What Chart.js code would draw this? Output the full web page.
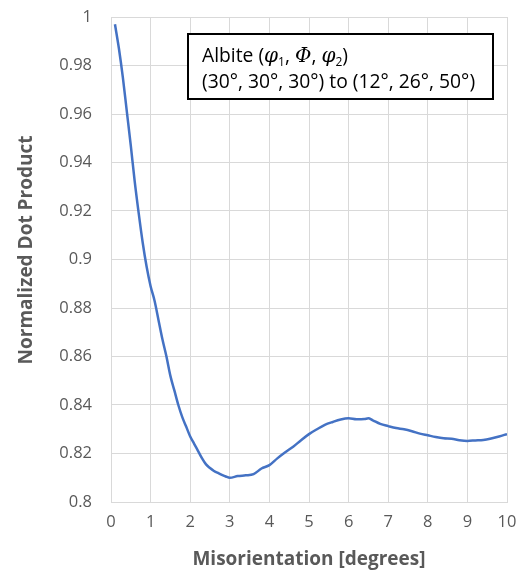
<!DOCTYPE html>
<html>
<head>
<meta charset="utf-8">
<script src="https://cdn.jsdelivr.net/npm/chart.js@4.4.0/dist/chart.umd.min.js"></script>
<style>
    html, body { margin: 0; padding: 0; background: #fff; }
    #wrap { width: 530px; height: 573px; }
</style>
</head>
<body>
<div id="wrap"><canvas id="lineChart" width="530" height="573"></canvas></div>
<script>
// misorientation in degrees and the normalized dot product
var misorientation = [0.1, 0.2, 0.3, 0.4, 0.5, 0.6, 0.7, 0.8, 0.9, 1.0,
    1.1, 1.2, 1.3, 1.4, 1.5, 1.6, 1.7, 1.8, 1.9, 2.0,
    2.1, 2.2, 2.3, 2.4, 2.5, 2.6, 2.7, 2.8, 2.9, 3.0,
    3.2, 3.4, 3.6, 3.8, 4.0, 4.2, 4.4, 4.6, 4.8, 5.0,
    5.2, 5.4, 5.6, 5.8, 6.0, 6.2, 6.4, 6.5, 6.6, 6.8,
    7.0, 7.2, 7.4, 7.6, 7.8, 8.0, 8.2, 8.4, 8.6, 8.8,
    9.0, 9.2, 9.4, 9.6, 9.8, 10.0];
var dotProduct = [0.997, 0.987, 0.975, 0.961, 0.947, 0.932, 0.919, 0.907, 0.897, 0.889,
    0.883, 0.875, 0.867, 0.860, 0.852, 0.846, 0.840, 0.835, 0.831, 0.827,
    0.824, 0.821, 0.818, 0.8155, 0.814, 0.8128, 0.812, 0.8112, 0.8105, 0.810,
    0.8107, 0.8110, 0.8115, 0.8138, 0.8152, 0.818, 0.8205, 0.8228, 0.8255, 0.828,
    0.830, 0.8318, 0.833, 0.834, 0.8345, 0.8341, 0.8342, 0.8345, 0.8338, 0.8322,
    0.8313, 0.8305, 0.8300, 0.8292, 0.8282, 0.8275, 0.8268, 0.8263, 0.8261, 0.8255,
    0.8252, 0.8254, 0.8256, 0.8262, 0.8270, 0.828];

var xTitle = 'Misorientation [degrees]';
var yTitle = 'Normalized Dot Product';
var boxLine2 = '(30°, 30°, 30°) to (12°, 26°, 50°)';

var points = [];
for (var i = 0; i < misorientation.length; i++) {
    points.push({ x: misorientation[i], y: dotProduct[i] });
}

var tickFont = { family: 'Open Sans', size: 16.5 };
var titleFont = { family: 'Open Sans', size: 19, weight: 'bold' };
var gray = '#595959';
var gridGray = '#d9d9d9';

// draws text made of pieces with different fonts
function drawRich(ctx, parts, x, y) {
    parts.forEach(function (p) {
        ctx.font = p.font;
        ctx.fillText(p.text, x, y + (p.dy || 0));
        x += ctx.measureText(p.text).width;
    });
}

// y title (a bit above the plot centre, like the original) and the text box
var boxPlugin = {
    id: 'albiteBox',
    afterDraw: function (chart) {
        var ctx = chart.ctx;
        ctx.save();
        ctx.translate(27, 250);
        ctx.rotate(-Math.PI / 2);
        ctx.font = 'bold 19px "Open Sans"';
        ctx.fillStyle = gray;
        ctx.textAlign = 'center';
        ctx.textBaseline = 'middle';
        ctx.fillText(yTitle, 0, 0);
        ctx.restore();

        var left = 188, top = 34, w = 305, h = 65;
        ctx.save();
        ctx.fillStyle = '#fff';
        ctx.fillRect(left, top, w, h);
        ctx.strokeStyle = '#000';
        ctx.lineWidth = 2;
        ctx.strokeRect(left, top, w, h);
        ctx.fillStyle = '#000';
        ctx.textBaseline = 'alphabetic';
        var normal = '19.3px "Open Sans"';
        var greek = 'italic 20px "DejaVu Serif"';
        var sub = '12px "Open Sans"';
        drawRich(ctx, [
            { text: 'Albite (', font: normal },
            { text: 'φ', font: greek },
            { text: '1', font: sub, dy: 4 },
            { text: ', ', font: normal },
            { text: 'Φ', font: greek },
            { text: ', ', font: normal },
            { text: 'φ', font: greek },
            { text: '2', font: sub, dy: 4 },
            { text: ')', font: normal }
        ], left + 14, top + 28);
        drawRich(ctx, [{ text: boxLine2, font: normal }], left + 14, top + 54);
        ctx.restore();
    }
};

var ctx = document.getElementById('lineChart').getContext('2d');
var myChart = new Chart(ctx, {
    type: 'line',
    data: {
        datasets: [{
            data: points,
            borderColor: '#4472C4',
            borderWidth: 2.5,
            pointRadius: 0,
            fill: false,
            cubicInterpolationMode: 'monotone'
        }]
    },
    options: {
        responsive: false,
        animation: false,
        devicePixelRatio: 1,
        layout: { padding: { top: 17, right: 23, left: 0, bottom: 0 } },
        plugins: {
            legend: { display: false },
            tooltip: { enabled: false }
        },
        scales: {
            x: {
                type: 'linear',
                min: 0,
                max: 10,
                ticks: { stepSize: 1, color: gray, font: tickFont, padding: 10 },
                grid: { color: gridGray, drawTicks: false },
                border: { color: gridGray },
                title: { display: true, text: xTitle, color: gray, font: titleFont, padding: { top: 0, bottom: 2 } },
                afterFit: function (scale) { scale.height = 71; }
            },
            y: {
                min: 0.8,
                max: 1,
                ticks: {
                    stepSize: 0.02,
                    color: gray,
                    font: tickFont,
                    padding: 19,
                    callback: function (v) { return String(Number(v.toFixed(2))); }
                },
                grid: { color: gridGray, drawTicks: false },
                border: { color: gridGray },
                afterFit: function (scale) {
                    scale.width = 111;
                    scale.paddingTop = 0;
                    scale.paddingBottom = 0;
                }
            }
        }
    },
    plugins: [boxPlugin]
});
</script>
</body>
</html>
